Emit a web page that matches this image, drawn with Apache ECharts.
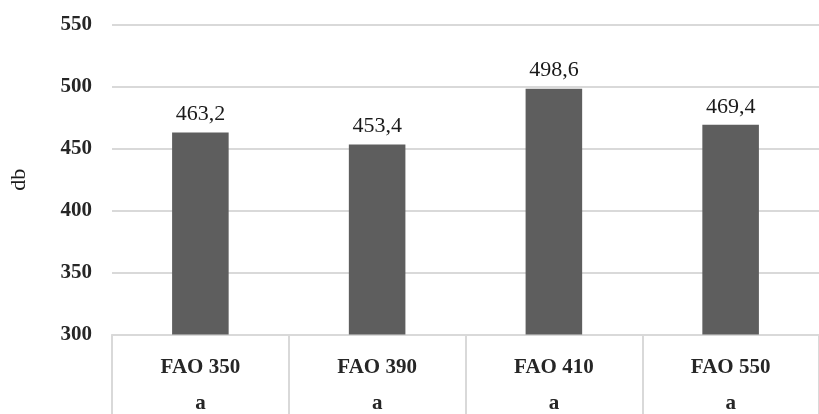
<!DOCTYPE html>
<html>
<head>
<meta charset="utf-8">
<script src="https://cdn.jsdelivr.net/npm/echarts@6/dist/echarts.min.js"></script>
<style>
  html, body { margin: 0; padding: 0; background: #ffffff; }
  #chart { width: 819px; height: 414px; }
</style>
</head>
<body>
<div id="chart"></div>
<script>
// Hybrids and their mean values
const categories = ['FAO 350', 'FAO 390', 'FAO 410', 'FAO 550'];
const groupLetters = ['a', 'a', 'a', 'a'];
const values = [463.2, 453.4, 498.6, 469.4];
const yTicks = [300, 350, 400, 450, 500, 550];

const serif = '"Liberation Serif", "DejaVu Serif", serif';
const chart = echarts.init(document.getElementById('chart'));

chart.setOption({
  animation: false,
  grid: { left: 111, top: 25, width: 717, height: 317 },
  xAxis: {
    type: 'category',
    data: categories,
    axisLine: { show: true, lineStyle: { color: '#d9d9d9', width: 2 } },
    axisTick: { show: true, length: 80, lineStyle: { color: '#d9d9d9', width: 2 } },
    axisLabel: {
      margin: 15,
      formatter: function (v, i) {
        return '{c|' + v + '}\n{g|' + groupLetters[i] + '}';
      },
      rich: {
        c: { fontFamily: serif, fontSize: 21, fontWeight: 'bold', color: '#262626', lineHeight: 36 },
        g: { fontFamily: serif, fontSize: 21, fontWeight: 'bold', color: '#262626', lineHeight: 36 }
      }
    }
  },
  yAxis: {
    type: 'value',
    min: yTicks[0],
    max: yTicks[yTicks.length - 1],
    interval: 50,
    name: 'db',
    nameLocation: 'middle',
    nameGap: 82,
    nameRotate: 90,
    nameTextStyle: { fontFamily: serif, fontSize: 22, color: '#1a1a1a' },
    axisLine: { show: false },
    axisTick: { show: false },
    splitLine: { lineStyle: { color: '#d9d9d9', width: 2 } },
    axisLabel: { margin: 20, fontFamily: serif, fontSize: 21, fontWeight: 'bold', color: '#262626' }
  },
  series: [{
    type: 'bar',
    data: values,
    barWidth: '32%',
    itemStyle: { color: '#5e5e5e' },
    label: {
      show: true,
      position: 'top',
      distance: 7,
      fontFamily: serif,
      fontSize: 22,
      color: '#1a1a1a',
      formatter: function (p) { return p.value.toFixed(1).replace('.', ','); }
    }
  }]
});
</script>
</body>
</html>
